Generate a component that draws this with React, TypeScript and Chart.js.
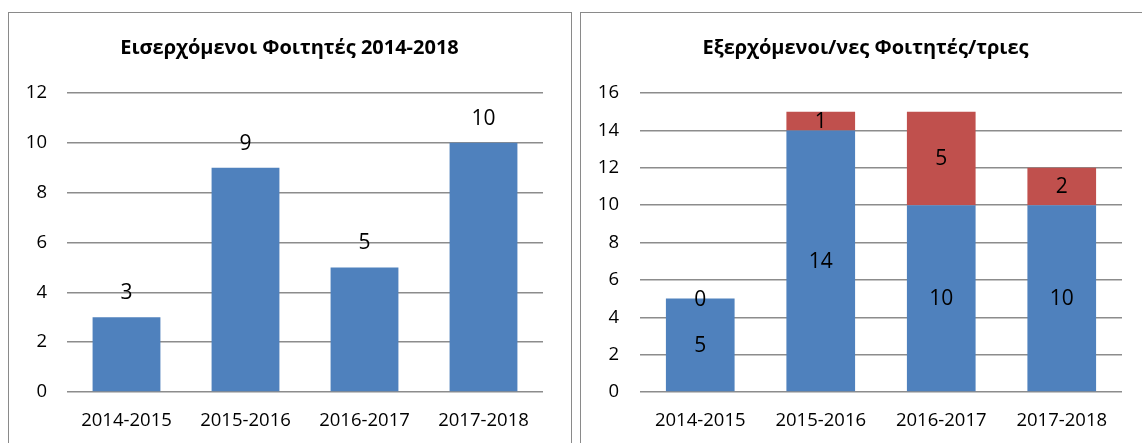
import React, { useEffect, useRef } from "react";
import { Chart, registerables } from "chart.js";

Chart.register(...registerables);

const categories = ["2014-2015", "2015-2016", "2016-2017", "2017-2018"];
const incoming = [3, 9, 5, 10];
const outgoingA = [5, 14, 10, 10];
const outgoingB = [0, 1, 5, 2];
const leftTitle = "Εισερχόμενοι Φοιτητές 2014-2018";
const rightTitle = "Εξερχόμενοι/νες Φοιτητές/τριες";
const leftMax = 12;
const rightMax = 16;

const BLUE = "#4F81BD";
const RED = "#C0504D";
const GRID = "#8c8c8c";
const FONT = '"Open Sans", "Noto Sans", sans-serif';

function labelPlugin(mode: "above" | "center", offset: number) {
  return {
    id: "valueLabels",
    afterDatasetsDraw(chart: any) {
      const ctx = chart.ctx;
      ctx.save();
      ctx.font = `21px ${FONT}`;
      ctx.fillStyle = "#000";
      ctx.textAlign = "center";
      ctx.textBaseline = "middle";
      chart.data.datasets.forEach((ds: any, i: number) => {
        const meta = chart.getDatasetMeta(i);
        meta.data.forEach((el: any, j: number) => {
          const p = el.getProps(["x", "y", "base"], true);
          const ty = (mode === "above" ? p.y - offset : (p.y + p.base) / 2) + 1;
          ctx.fillText(String(ds.data[j]), p.x, ty);
        });
      });
      ctx.restore();
    },
  };
}

function titlePlugin(text: string) {
  return {
    id: "boxTitle",
    afterDraw(chart: any) {
      const ctx = chart.ctx;
      ctx.save();
      ctx.font = `bold 20px ${FONT}`;
      ctx.fillStyle = "#000";
      ctx.textAlign = "center";
      ctx.textBaseline = "alphabetic";
      ctx.fillText(text, chart.width / 2, 41);
      ctx.restore();
    },
  };
}

function makeOptions(max: number, padR: number, yWidth: number, yPad: number, stacked: boolean) {
  return {
    responsive: false,
    animation: false,
    layout: { padding: { left: 0, right: padR, top: 80, bottom: 0 } },
    plugins: {
      legend: { display: false },
      tooltip: { enabled: false },
      title: { display: false },
    },
    scales: {
      x: {
        stacked,
        grid: { display: false, drawTicks: false },
        border: { display: false },
        ticks: { color: "#000", font: { family: FONT, size: 18.5 }, padding: 18, maxRotation: 0 },
        afterFit: (s: any) => {
          s.height = 51;
        },
      },
      y: {
        stacked,
        min: 0,
        max,
        grid: { color: GRID, lineWidth: 1.5, drawTicks: false },
        border: { display: false },
        ticks: { stepSize: 2, color: "#000", font: { family: FONT, size: 18.5 }, padding: yPad },
        afterFit: (s: any) => {
          s.width = yWidth;
        },
      },
    },
  };
}

function LeftChart() {
  const ref = useRef<HTMLCanvasElement>(null);
  useEffect(() => {
    const chart = new Chart(ref.current!, {
      type: "bar",
      data: {
        labels: categories,
        datasets: [
          {
            data: incoming,
            backgroundColor: BLUE,
            categoryPercentage: 1,
            barPercentage: 0.57,
          },
        ],
      },
      options: makeOptions(leftMax, 27, 58, 20, false) as any,
      plugins: [labelPlugin("above", 25), titlePlugin(leftTitle)],
    });
    return () => chart.destroy();
  }, []);
  return <canvas ref={ref} width={561} height={430} style={{ position: "absolute", left: 0, top: 0 }} />;
}

function RightChart() {
  const ref = useRef<HTMLCanvasElement>(null);
  useEffect(() => {
    const chart = new Chart(ref.current!, {
      type: "bar",
      data: {
        labels: categories,
        datasets: [
          {
            data: outgoingA,
            backgroundColor: BLUE,
            categoryPercentage: 1,
            barPercentage: 0.57,
          },
          {
            data: outgoingB,
            backgroundColor: RED,
            categoryPercentage: 1,
            barPercentage: 0.57,
          },
        ],
      },
      options: makeOptions(rightMax, 28, 59, 21, true) as any,
      plugins: [labelPlugin("center", 0), titlePlugin(rightTitle)],
    });
    return () => chart.destroy();
  }, []);
  return <canvas ref={ref} width={569} height={430} style={{ position: "absolute", left: 0, top: 0 }} />;
}

export default function App() {
  const box: React.CSSProperties = {
    position: "absolute",
    top: 12,
    height: 500,
    border: "1px solid #8a8a8a",
    boxSizing: "border-box",
    background: "#fff",
  };
  return (
    <div
      style={{
        position: "fixed",
        left: 0,
        top: 0,
        width: 1142,
        height: 443,
        overflow: "hidden",
        background: "#fff",
      }}
    >
      <div style={{ ...box, left: 8, width: 564 }}>
        <LeftChart />
      </div>
      <div style={{ ...box, left: 580, width: 571 }}>
        <RightChart />
      </div>
    </div>
  );
}
